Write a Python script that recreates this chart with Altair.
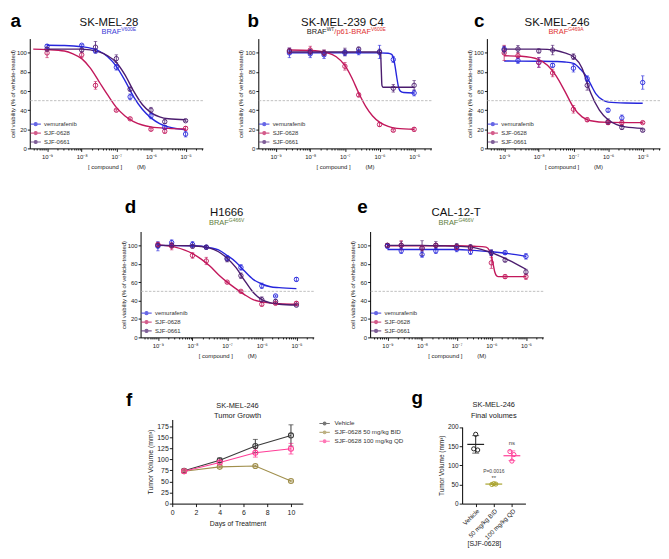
import altair as alt
import pandas as pd

FONT = "Liberation Sans"
INK = "#1a1a1a"

# ---------------- data ----------------
SERIES = ["vemurafenib", "SJF-0628", "SJF-0661"]
SERIES_COLORS = ["#2626dc", "#c2185b", "#4b1c6e"]
X_TICK_EXP = [-9, -8, -7, -6, -5]
X_TICK_LABELS = ["10⁻⁹", "10⁻⁸", "10⁻⁷", "10⁻⁶", "10⁻⁵"]
Y_TICKS = [0, 20, 40, 60, 80, 100]
Y_TITLE = "cell viability (% of vehicle-treated)"
THRESHOLD = [50]

CONC_A = [1e-9, 1e-8, 2.5e-8, 1e-7, 2.5e-7, 1e-6, 2.5e-6, 1e-5]
CONC_B = [2.5e-9, 1e-8, 2.5e-8, 1e-7, 2.5e-7, 1e-6, 2.5e-6, 1e-5]
CONC_9 = [1e-9, 2.5e-9, 1e-8, 2.5e-8, 1e-7, 2.5e-7, 1e-6, 2.5e-6, 1e-5]

# panel a  (SK-MEL-28)
a_vem = [107, 108, 102, 85, 54, 34, 22, 15]
a_vem_err = [2, 1, 2, 3, 3, 3, 2, 3]
a_628 = [100, 98, 66, 40, 31, 20, 18, 21]
a_628_err = [5, 3, 4, 1, 1, 1, 2, 2]
a_661 = [104, 103, 106, 94, 62, 40, 28, 29]
a_661_err = [2, 2, 6, 4, 2, 3, 2, 1]
a_vem_cx = [-9, -8.5, -8, -7.5, -7.25, -7, -6.75, -6.5, -6.25, -6, -5.75, -5.5, -5]
a_vem_cy = [108, 107.8, 106.5, 102, 96, 86, 71, 54, 41, 32, 26, 22.5, 19.5]
a_628_cx = [-9.4, -9, -8.5, -8.25, -8, -7.75, -7.5, -7.25, -7, -6.75, -6.5, -6.25, -6, -5.5, -5]
a_628_cy = [104, 103.5, 102, 99, 94, 84, 70, 56, 43, 34, 28, 24.5, 22.5, 21, 20.5]
a_661_cx = [-9, -8, -7.5, -7.25, -7, -6.75, -6.5, -6.25, -6, -5.75, -5.5, -5]
a_661_cy = [104, 104, 101, 97, 90, 77, 60, 46, 37.5, 33, 31, 30]

# panel b  (SK-MEL-239 C4)
b_vem = [100, 99, 98, 100, 101, 101, 93, 58]
b_vem_err = [5, 4, 4, 3, 3, 7, 3, 3]
b_628 = [102, 103, 100, 86, 56, 25, 19, 20]
b_628_err = [3, 4, 3, 4, 2, 2, 1, 2]
b_661 = [102, 101, 100, 101, 104, 101, 63, 66]
b_661_err = [3, 3, 3, 4, 2, 3, 4, 5]
b_vem_cx = [-8.6, -6, -5.75, -5.65, -5.6, -5.55, -5.5, -5.45, -5.4, -5.3, -5]
b_vem_cy = [100, 100, 99.7, 98.5, 95, 86, 74, 64, 60, 58.5, 58]
b_628_cx = [-8.6, -8, -7.5, -7.25, -7, -6.8, -6.6, -6.4, -6.2, -6, -5.75, -5.5, -5]
b_628_cy = [103, 102.5, 100, 96, 87, 74, 58, 44, 34, 27.5, 23, 21, 20]
b_661_cx = [-8.6, -6.0, -5.97, -5.95, -5.93, -5.9, -5]
b_661_cy = [101, 101, 100, 83, 66, 64, 64]

# panel c  (SK-MEL-246)
c_vem = [104, 92, 90, 87, 84, 73, 40, 32, 69]
c_vem_err = [3, 3, 5, 2, 4, 3, 2, 3, 7]
c_628 = [100, 97, 90, 79, 41, 30, 27, 27, 27]
c_628_err = [8, 3, 5, 4, 4, 2, 2, 2, 1]
c_661 = [103, 104, 102, 103, 96, 66, 28, 22, 19]
c_661_err = [4, 4, 2, 5, 3, 5, 3, 2, 1]
c_vem_cx = [-9, -8, -7.5, -7.25, -7, -6.8, -6.6, -6.5, -6.35, -6.15, -6, -5.5, -5]
c_vem_cy = [91.5, 91.3, 91, 90.5, 89, 83, 74, 67, 57, 50.5, 48.5, 47.5, 47.3]
c_628_cx = [-9, -8.5, -8, -7.75, -7.5, -7.25, -7, -6.75, -6.5, -6, -5]
c_628_cy = [97, 96.5, 93, 87, 76, 60, 43, 33, 29, 27.3, 27]
c_661_cx = [-9, -8, -7.5, -7.25, -7, -6.75, -6.6, -6.5, -6.25, -6, -5.75, -5.5, -5]
c_661_cy = [104, 104, 102.5, 100, 96, 84, 68, 58, 40, 30, 25, 22.5, 21]

# panel d  (H1666)
d_vem = [99, 103, 101, 98, 86, 76, 56, 45, 63]
d_vem_err = [5, 3, 3, 2, 3, 3, 3, 1, 2]
d_628 = [101, 99, 89, 83, 60, 50, 36, 37, 37]
d_628_err = [2, 4, 3, 4, 1, 1, 2, 1, 2]
d_661 = [100, 100, 99, 98, 85, 67, 41, 39, 35]
d_661_err = [2, 2, 2, 2, 3, 3, 3, 2, 1]
d_vem_cx = [-9, -8, -7.5, -7.25, -7, -6.75, -6.5, -6.25, -6, -5.75, -5.5, -5]
d_vem_cy = [100, 99.5, 97.5, 95, 89, 82, 72, 63, 58, 55, 54, 53]
d_628_cx = [-9, -8.5, -8, -7.75, -7.5, -7.25, -7, -6.75, -6.5, -6.25, -6, -5.5, -5]
d_628_cy = [100.5, 98, 91, 85, 77.5, 68, 60, 53, 46.5, 41, 38.5, 36.5, 36]
d_661_cx = [-9, -8, -7.5, -7.25, -7, -6.75, -6.5, -6.25, -6, -5.75, -5.5, -5]
d_661_cy = [100, 99.5, 97, 93, 86, 76, 62, 49, 41, 37.5, 36, 35]

# panel e  (CAL-12-T)
e_vem = [99, 94, 90, 94, 96, 93, 92, 92, 88]
e_vem_err = [2, 3, 3, 3, 3, 3, 3, 2, 3]
e_628 = [100, 100, 97, 100, 98, 97, 81, 66, 66]
e_628_err = [2, 5, 3, 2, 3, 3, 6, 2, 3]
e_661 = [100, 100, 97, 100, 99, 98, 92, 84, 71]
e_661_err = [2, 4, 8, 4, 3, 3, 3, 2, 3]
e_vem_cx = [-9, -7, -6.5, -6, -5.5, -5]
e_vem_cy = [95.5, 95.5, 94.5, 93, 91, 88]
e_628_cx = [-9, -7, -6.5, -6.15, -6.05, -6, -5.95, -5.9, -5.85, -5.8, -5]
e_628_cy = [99.5, 99.5, 99, 98, 94, 89, 80, 71, 67, 66, 66]
e_661_cx = [-9, -8, -7.5, -7, -6.5, -6, -5.5, -5]
e_661_cy = [100, 100, 99.5, 99, 97.5, 92, 84, 74]

# panel f  (tumour growth)
DAYS = [1, 4, 7, 10]
F_GROUPS = ["Vehicle", "SJF-0628 50 mg/kg BID", "SJF-0628 100 mg/kg QD"]
F_COLORS = ["#3a3a3a", "#a08f4c", "#ff3d97"]
f_vehicle = [74, 98, 130, 154]
f_vehicle_err = [4, 5, 15, 24]
f_bid = [73, 83, 85, 51]
f_bid_err = [2, 2, 2, 2]
f_qd = [73, 93, 115, 124]
f_qd_err = [3, 4, 10, 12]
F_X_TICKS = [0, 2, 4, 6, 8, 10]
F_Y_TICKS = [0, 25, 50, 75, 100, 125, 150, 175]

# panel g  (final volumes)
G_GROUPS = ["Vehicle", "50 mg/kg BID", "100 mg/kg QD"]
G_COLORS = ["#222222", "#a9a22d", "#ff3d97"]
g_vehicle = [143, 181, 140]
g_bid = [50, 52, 51]
g_qd = [136, 111, 128]
G_Y_TICKS = [0, 50, 100, 150, 200]

BLUE_T = "#3a3ad6"
RED_T = "#e0312f"
GREEN_T = "#5e7d3c"

# ---------------- helpers ----------------
ONE = pd.DataFrame({"k": [0]})
THR_DF = pd.DataFrame({"v": THRESHOLD})
W = 175

AW = {"B": .667, "R": .722, "A": .667, "F": .611, "V": .667, "E": .667, "G": .778,
      "W": .944, "T": .611, "/": .278, "p": .556, "-": .333}


def tw(s, size):
    return sum(AW.get(ch, .556) for ch in s) * size


def txt(text, x, y, size, color=INK, weight="normal", align="center"):
    return alt.Chart(ONE).mark_text(
        text=text, fontSize=size, color=color, fontWeight=weight, align=align,
        baseline="alphabetic", font=FONT
    ).encode(x=alt.value(x), y=alt.value(y))


def rich(parts, cx, y):
    total = sum(tw(t, sz) for t, sz, col, up in parts)
    x = cx - total / 2
    out = []
    for t, sz, col, up in parts:
        out.append(txt(t, x, y - up, sz, col, align="left"))
        x += tw(t, sz)
    return out


def spacer(w, h):
    return alt.Chart(ONE).mark_point(opacity=0, size=1).encode(
        x=alt.value(0), y=alt.value(0)).properties(width=w, height=h)


def row_spacer(w, h, top, bottom):
    # invisible vertical rule that fixes the vertical extent of a row
    return alt.Chart(ONE).mark_rule(opacity=0, strokeWidth=1).encode(
        x=alt.value(0), y=alt.value(-top), y2=alt.value(h + bottom)
    ).properties(width=w, height=h)


EXP = "round(log(datum.value)/LN10)"
MAJOR = f"abs(log(datum.value)/LN10 - {EXP}) < 0.01"
_lab = "''"
for _e, _t in zip(reversed(X_TICK_EXP), reversed(X_TICK_LABELS)):
    _lab = f"{EXP} == {_e} ? '{_t}' : {_lab}"
LABEL_EXPR = f"{MAJOR} ? ({_lab}) : ''"
X_VALS = [k * 10.0 ** d for d in range(-10, -4) for k in range(1, 10)
          if 10 ** -9.5 <= k * 10.0 ** d <= 10 ** -4.5]

LEG_PATH = "M-1.45,0L-0.42,0M0.42,0L1.45,0M-0.42,0A0.42,0.42,0,1,1,0.42,0A0.42,0.42,0,1,1,-0.42,0"
LEG_PATH_F = "M-1.2,0L-0.32,0M0.32,0L1.2,0M-0.32,0A0.32,0.32,0,1,1,0.32,0A0.32,0.32,0,1,1,-0.32,0"


def dose_panel(conc, vals, errs, cx, cy, letter, letter_x, title, title_x,
               sub, sub_x, h, sub_y, title_y, letter_y):
    rows = []
    for s, v, e in zip(SERIES, vals, errs):
        for c, vi, ei in zip(conc, v, e):
            rows.append(dict(conc=c, v=vi, lo=vi - ei, hi=vi + ei, s=s))
    pts = pd.DataFrame(rows)
    crow = []
    for s, xs_, ys_ in zip(SERIES, cx, cy):
        for xi, yi in zip(xs_, ys_):
            crow.append(dict(conc=10 ** xi, v=yi, s=s))
    cur = pd.DataFrame(crow)

    xs = alt.Scale(type="log", domain=[10 ** -9.5, 10 ** -4.5], nice=False)
    ys = alt.Scale(domain=[0, 115], nice=False)
    xaxis = alt.Axis(values=X_VALS, labelExpr=LABEL_EXPR, labelFontSize=6,
                     labelPadding=2, labelOverlap=False, labelFlush=False,
                     tickSize={"condition": {"test": MAJOR, "value": 3}, "value": 1.6},
                     title="[ compound ]" + "\u00a0" * 9 + "(M)", titleFontSize=6,
                     titlePadding=4)
    yaxis = alt.Axis(values=Y_TICKS, tickSize=2.5, labelFontSize=6, labelPadding=1,
                     labelOverlap=False, labelFlush=False,
                     title=Y_TITLE, titleFontSize=6, titlePadding=1)

    def X(f):
        return alt.X(f"{f}:Q", scale=xs, axis=xaxis)

    def Y(f):
        return alt.Y(f"{f}:Q", scale=ys, axis=yaxis)

    leg = alt.Legend(title=None, orient="none", legendX=1.5, legendY=h - 29,
                     symbolType=LEG_PATH, symbolSize=52, symbolStrokeWidth=1.2,
                     symbolFillColor="transparent", labelFontSize=6, labelOffset=4,
                     rowPadding=-1.6, padding=0, labelColor="#333")
    col = alt.Color("s:N", scale=alt.Scale(domain=SERIES, range=SERIES_COLORS), legend=leg)

    thr = alt.Chart(THR_DF).mark_rule(color="#b8b8b8", strokeDash=[2.5, 1.5],
                                      strokeWidth=0.9).encode(y=Y("v"))
    lines = alt.Chart(cur).mark_line(strokeWidth=1.4, interpolate="monotone").encode(
        x=X("conc"), y=Y("v"), color=col)
    bars = alt.Chart(pts).mark_errorbar(ticks=True, size=3.5, thickness=0.8).encode(
        x=X("conc"), y=Y("lo"), y2=alt.Y2("hi"), color=col)
    dots = alt.Chart(pts).mark_point(shape="circle", filled=False, size=20,
                                     strokeWidth=0.9, opacity=1).encode(
        x=X("conc"), y=Y("v"), color=col)
    texts = [txt(letter, letter_x, letter_y, 19, "#000", "bold", "left"),
             txt(title, title_x, title_y, 11.5, "#111")] + rich(sub, sub_x, sub_y)
    return alt.layer(lines, thr, bars, dots, *texts).properties(width=W, height=h)


H1, H2, H3 = 111, 107, 85
LEFT = 19.5

pa = dose_panel(CONC_A, [a_vem, a_628, a_661], [a_vem_err, a_628_err, a_661_err],
                [a_vem_cx, a_628_cx, a_661_cx], [a_vem_cy, a_628_cy, a_661_cy],
                "a", -19.5, "SK-MEL-28", 80,
                [("BRAF", 7.5, BLUE_T, 0), ("V600E", 5, BLUE_T, 3)], 90, H1, -5, -13, -12)
pb = dose_panel(CONC_B, [b_vem, b_628, b_661], [b_vem_err, b_628_err, b_661_err],
                [b_vem_cx, b_628_cx, b_661_cx], [b_vem_cy, b_628_cy, b_661_cy],
                "b", -11, "SK-MEL-239 C4", 85,
                [("BRAF", 7.5, INK, 0), ("WT", 5, INK, 3), ("/p61-BRAF", 7.5, RED_T, 0),
                 ("V600E", 5, RED_T, 3)], 89, H1, -5, -13, -12)
pc = dose_panel(CONC_9, [c_vem, c_628, c_661], [c_vem_err, c_628_err, c_661_err],
                [c_vem_cx, c_628_cx, c_661_cx], [c_vem_cy, c_628_cy, c_661_cy],
                "c", -13, "SK-MEL-246", 71,
                [("BRAF", 7.5, RED_T, 0), ("G469A", 5, RED_T, 3)], 80, H1, -5, -13, -12)
pd_ = dose_panel(CONC_9, [d_vem, d_628, d_661], [d_vem_err, d_628_err, d_661_err],
                 [d_vem_cx, d_628_cx, d_661_cx], [d_vem_cy, d_628_cy, d_661_cy],
                 "d", -16, "H1666", 87,
                 [("BRAF", 7.5, GREEN_T, 0), ("G466V", 5, GREEN_T, 3)], 87, H2, -7, -16, -19)
pe = dose_panel(CONC_9, [e_vem, e_628, e_661], [e_vem_err, e_628_err, e_661_err],
                [e_vem_cx, e_628_cx, e_661_cx], [e_vem_cy, e_628_cy, e_661_cy],
                "e", -13, "CAL-12-T", 87,
                [("BRAF", 7.5, GREEN_T, 0), ("G466V", 5, GREEN_T, 3)], 87, H2, -7, -16, -19)

# ---- panel f ----
frows = []
for g_, v_, e_ in zip(F_GROUPS, [f_vehicle, f_bid, f_qd], [f_vehicle_err, f_bid_err, f_qd_err]):
    for d_, vi, ei in zip(DAYS, v_, e_):
        frows.append(dict(day=d_, v=vi, lo=vi - ei, hi=vi + ei, grp=g_))
fdf = pd.DataFrame(frows)
fxs = alt.Scale(domain=[0, 11], nice=False)
fys = alt.Scale(domain=[0, 190], nice=False)
fxa = alt.Axis(values=F_X_TICKS, tickSize=3, labelFontSize=7, labelPadding=2,
               labelOverlap=False, title="Days of Treatment", titleFontSize=7,
               titlePadding=4, labelFlush=False)
fya = alt.Axis(values=F_Y_TICKS, tickSize=3, labelFontSize=7, labelPadding=1,
               labelOverlap=False, labelFlush=False,
               title="Tumor Volume (mm³)", titleFontSize=7, titlePadding=3)
fleg = alt.Legend(title=None, orient="none", legendX=149, legendY=-1,
                  symbolType=LEG_PATH_F, symbolSize=77, symbolStrokeWidth=1.1,
                  symbolFillColor="transparent", labelFontSize=6.3, labelOffset=5,
                  rowPadding=0, padding=0, labelColor="#333")
fcol = alt.Color("grp:N", scale=alt.Scale(domain=F_GROUPS, range=F_COLORS), legend=fleg)
f_lines = alt.Chart(fdf).mark_line(strokeWidth=1.1).encode(
    x=alt.X("day:Q", scale=fxs, axis=fxa), y=alt.Y("v:Q", scale=fys, axis=fya), color=fcol)
f_bars = alt.Chart(fdf).mark_errorbar(ticks=True, size=5, thickness=1).encode(
    x=alt.X("day:Q", scale=fxs, axis=fxa), y=alt.Y("lo:Q", scale=fys, axis=fya),
    y2=alt.Y2("hi"), color=fcol)
f_dots = alt.Chart(fdf).mark_point(shape="circle", filled=False, size=26, strokeWidth=1.1,
                                   opacity=1).encode(
    x=alt.X("day:Q", scale=fxs, axis=fxa), y=alt.Y("v:Q", scale=fys, axis=fya), color=fcol)
pf = alt.layer(
    f_lines, f_bars, f_dots,
    txt("f", -46.7, -14, 19, "#000", "bold", "left"),
    txt("SK-MEL-246", 66, -12, 7.5),
    txt("Tumor Growth", 66, -2, 7.5),
).properties(width=132, height=H3)

# ---- panel g ----
grows = []
for g_, pts_ in zip(G_GROUPS, [g_vehicle, g_bid, g_qd]):
    for i, v in enumerate(pts_):
        grows.append(dict(group=g_, rep=str(i + 1), v=v))
gdf = pd.DataFrame(grows)
annot = pd.DataFrame({"group": ["50 mg/kg BID", "50 mg/kg BID", "100 mg/kg QD"],
                      "label": ["P=0.0016", "**", "ns"],
                      "top": [max(g_bid), max(g_bid), max(g_qd)]})
gxs = alt.Scale(type="point", domain=G_GROUPS, padding=0.75)
gys = alt.Scale(domain=[0, 200], nice=False, range=[H3, 7.6])
gxa = alt.Axis(labelAngle=-45, labelFontSize=6.3, tickSize=3, labelPadding=1,
               title="[SJF-0628]", titleFontSize=7, titleX=22, titleY=40,
               titleBaseline="middle", titleAlign="center")
gya = alt.Axis(values=G_Y_TICKS, tickSize=3, labelFontSize=6.5, labelPadding=1,
               labelOverlap=False, labelFlush=False,
               title="Tumor Volume (mm³)", titleFontSize=6.5, titlePadding=3)
gcol = alt.Color("group:N", scale=alt.Scale(domain=G_GROUPS, range=G_COLORS), legend=None)
GX = alt.X("group:N", scale=gxs, axis=gxa, sort=G_GROUPS)
g_pts = alt.Chart(gdf).mark_point(shape="circle", filled=False, size=18, strokeWidth=1,
                                  opacity=1).encode(
    x=GX, xOffset=alt.XOffset("rep:N", scale=alt.Scale(type="point", range=[-3, 3])),
    y=alt.Y("v:Q", scale=gys, axis=gya), color=gcol)
g_mean = alt.Chart(gdf).mark_tick(thickness=1.2, size=17, opacity=1).encode(
    x=GX, y=alt.Y("mean(v):Q", scale=gys, axis=gya), color=gcol)
g_err = alt.Chart(gdf).mark_errorbar(extent="stdev", ticks=True, size=7, thickness=1).encode(
    x=GX, y=alt.Y("v:Q", scale=gys, axis=gya), color=gcol)
g_ann = [
    alt.Chart(annot).transform_filter(f"datum.label == '{lab}'").mark_text(
        fontSize=fs, color="#444", font=FONT, dy=dy, baseline="alphabetic").encode(
        x=GX, y=alt.Y("top:Q", scale=gys, axis=gya), text="label:N")
    for lab, fs, dy in [("P=0.0016", 5, -11), ("**", 6, -4), ("ns", 6, -7)]
]
pg = alt.layer(
    g_err, g_mean, g_pts, *g_ann,
    txt("g", -51.3, -15.3, 19, "#000", "bold", "left"),
    txt("SK-MEL-246", 32, -12.3, 7.5),
    txt("Final volumes", 32, -1.6, 7.5),
).properties(width=64, height=H3)

# rows: vertical extents fixed by invisible rules (top, bottom overflow)
row1 = alt.hconcat(row_spacer(LEFT, H1, 26, 40), pa, spacer(56, H1), pb, spacer(56, H1), pc,
                   spacing=0, bounds="flush").resolve_scale(color="independent")
row2 = alt.hconcat(row_spacer(LEFT + 112, H2, 42, 38), pd_, spacer(57, H2), pe,
                   spacing=0, bounds="flush").resolve_scale(color="independent")
row3 = alt.hconcat(row_spacer(LEFT + 144, H3, 43, 45), pf, spacer(161, H3), pg,
                   spacing=0, bounds="flush").resolve_scale(color="independent")

chart = alt.vconcat(row1, row2, row3, spacing=0).properties(
    padding=0
).resolve_scale(color="independent").configure_view(stroke="transparent").configure_axis(
    domainColor="#000", tickColor="#000", labelColor="#222", titleColor="#222",
    labelFont=FONT, titleFont=FONT, titleFontWeight="normal", grid=False,
    domainWidth=1, tickWidth=0.9
).configure_legend(labelFont=FONT)

chart.save("out.html", embed_options={"renderer": "svg", "actions": False})
